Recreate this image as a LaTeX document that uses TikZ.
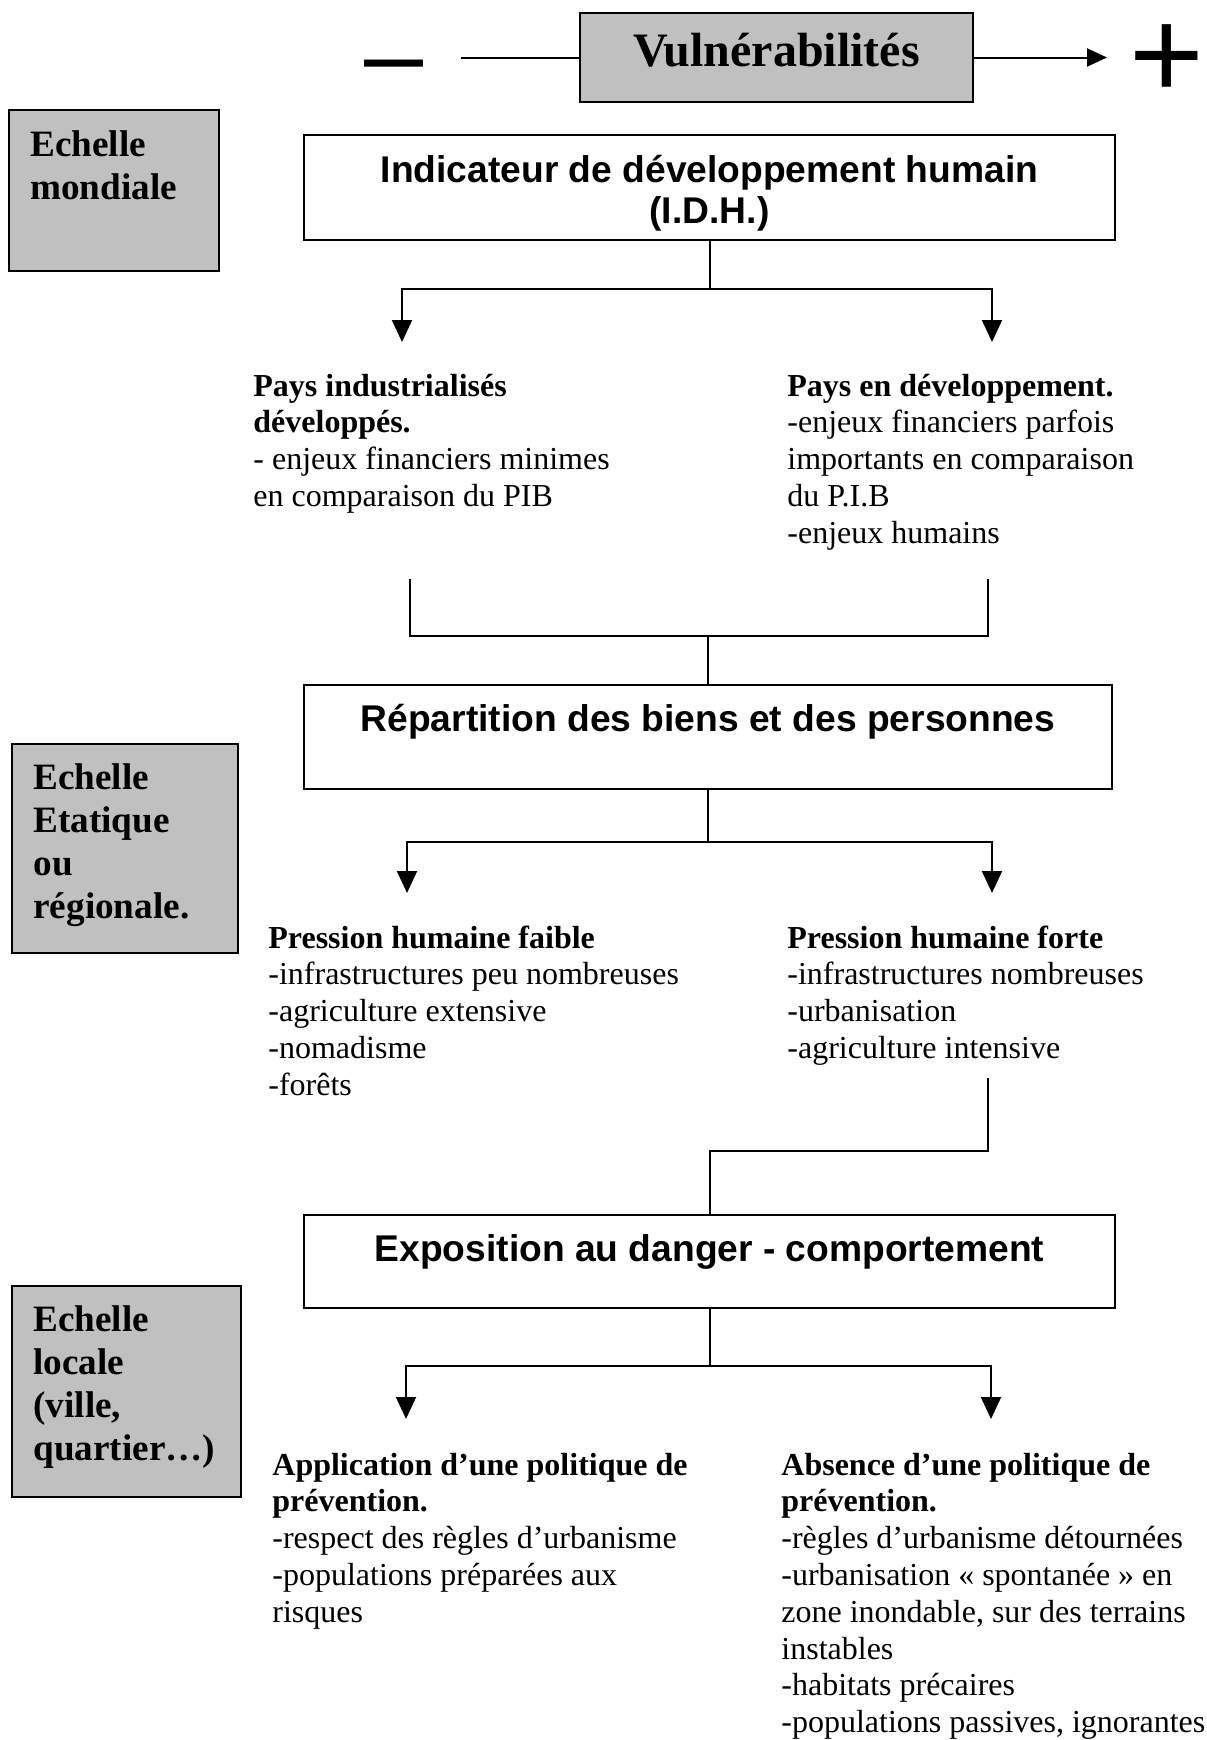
\documentclass[tikz,border=0pt]{standalone}
\usepackage{fontspec}
\setmainfont{Liberation Serif}
\newfontfamily\arial{Liberation Sans}
\usetikzlibrary{arrows.meta}
\definecolor{boxgray}{RGB}{192,192,192}
\newcommand\linesL[1]{\begin{tabular}[t]{@{}l@{}}#1\end{tabular}}
\newcommand\linesC[1]{\begin{tabular}[t]{@{}c@{}}#1\end{tabular}}
\tikzset{
  gbox/.style={draw, line width=1pt, fill=boxgray, inner sep=0pt},
  wbox/.style={draw, line width=1pt, fill=white, inner sep=0pt},
  body/.style={anchor=base west, inner sep=0pt, font=\fontsize{16}{18.4}\selectfont},
  scalelabel/.style={anchor=base west, inner sep=0pt, font=\fontsize{18.6}{21.5}\selectfont\bfseries},
  head/.style={anchor=base, inner sep=0pt, font=\arial\bfseries\fontsize{18.6}{20.7}\selectfont},
  link/.style={line width=1pt},
  arr/.style={line width=1pt, -{Triangle[width=10pt,length=11pt]}},
}
\begin{document}
\begin{tikzpicture}[x=0.5pt,y=-0.5pt]
\useasboundingbox (0,0) rectangle (1206,1740);

% top scale
\node[gbox, minimum width=196.5pt, minimum height=44.5pt] (vul) at (776.5,57.5) {};
\node[anchor=base, inner sep=0pt, font=\fontsize{24}{28}\selectfont\bfseries] (vultxt) at (776.5,66) {Vulnérabilités};
\node[anchor=base, inner sep=0pt, font=\arial\fontsize{53}{60}\selectfont] (minus) at (393.5,90) {–};
\node[anchor=base, inner sep=0pt, font=\arial\fontsize{64}{72}\selectfont] (plus) at (1167,98) {+};
\coordinate (mstart) at (461,57.5);
\coordinate (pend) at (1107,57.5);
\draw[link] (mstart) -- (vul.west);
\draw[line width=1pt, -{Triangle[width=9pt,length=10pt]}] (vul.east) -- (pend);

% scale boxes
\node[gbox, minimum width=105pt, minimum height=80.5pt] (mond) at (114,190.5) {};
\node[scalelabel] (mondtxt) at (30,156) {\linesL{Echelle\\mondiale}};
\node[gbox, minimum width=113pt, minimum height=104.5pt] (etat) at (125,848.5) {};
\node[scalelabel] (etattxt) at (33,789) {\linesL{Echelle\\Etatique\\ou\\régionale.}};
\node[gbox, minimum width=114.5pt, minimum height=105.5pt] (loc) at (126.5,1391.5) {};
\node[scalelabel] (loctxt) at (33,1331) {\linesL{Echelle\\locale\\(ville,\\quartier…)}};

% level 1
\node[wbox, minimum width=405.5pt, minimum height=52.5pt] (idh) at (709.5,187.5) {};
\node[head] (idhtxt) at (709.5,182) {\linesC{Indicateur de développement humain\\(I.D.H.)}};
\node[body] (pind) at (253,396) {\linesL{\textbf{Pays industrialisés}\\\textbf{développés.}\\- enjeux financiers minimes\\en comparaison du PIB}};
\node[body] (pdev) at (787,396) {\linesL{\textbf{Pays en développement.}\\-enjeux financiers parfois\\importants en comparaison\\du P.I.B\\-enjeux humains}};
\coordinate (j1) at (709.5,289);
\coordinate (a1) at (402,342);
\coordinate (a2) at (992,342);
\draw[link] (idh.south) -- (j1);
\draw[arr] (j1) -| (a1);
\draw[arr] (j1) -| (a2);

% join to level 2
\coordinate (l1) at (410,579);
\coordinate (r1) at (988,579);
\coordinate (j2) at (708,636);
\draw[link] (l1) |- (j2);
\draw[link] (r1) |- (j2);

% level 2
\node[wbox, minimum width=404pt, minimum height=52pt] (rep) at (708,737) {};
\node[head] (reptxt) at (708,731) {Répartition des biens et des personnes};
\draw[link] (j2) -- (rep.north);
\coordinate (j3) at (708,842);
\coordinate (a3) at (407,893);
\coordinate (a4) at (992,893);
\draw[link] (rep.south) -- (j3);
\draw[arr] (j3) -| (a3);
\draw[arr] (j3) -| (a4);
\node[body] (pfaible) at (268,948) {\linesL{\textbf{Pression humaine faible}\\-infrastructures peu nombreuses\\-agriculture extensive\\-nomadisme\\-forêts}};
\node[body] (pforte) at (787,948) {\linesL{\textbf{Pression humaine forte}\\-infrastructures nombreuses\\-urbanisation\\-agriculture intensive}};

% level 3
\node[wbox, minimum width=405.5pt, minimum height=46.5pt] (expo) at (709.5,1261.5) {};
\node[head] (expotxt) at (709.5,1261) {Exposition au danger - comportement};
\coordinate (f1) at (988,1078);
\coordinate (f2) at (988,1151);
\draw[link] (f1) -- (f2) -| (expo.north);
\coordinate (j4) at (709.5,1366);
\coordinate (a5) at (406,1419);
\coordinate (a6) at (991,1419);
\draw[link] (expo.south) -- (j4);
\draw[arr] (j4) -| (a5);
\draw[arr] (j4) -| (a6);
\node[body] (appl) at (272,1475) {\linesL{\textbf{Application d’une politique de}\\\textbf{prévention.}\\-respect des règles d’urbanisme\\-populations préparées aux\\risques}};
\node[body] (abs) at (781,1475) {\linesL{\textbf{Absence d’une politique de}\\\textbf{prévention.}\\-règles d’urbanisme détournées\\-urbanisation « spontanée » en\\zone inondable, sur des terrains\\instables\\-habitats précaires\\-populations passives, ignorantes}};
\end{tikzpicture}
\end{document}
